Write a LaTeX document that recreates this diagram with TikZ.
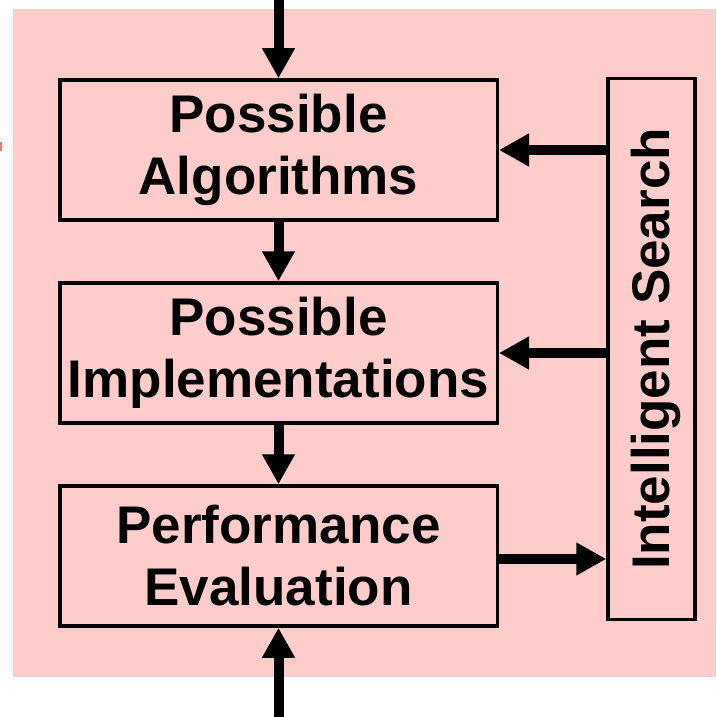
\documentclass[tikz,border=0pt]{standalone}
\usepackage{fontspec}
\setmainfont{Liberation Sans}
\usepackage{graphicx}
\usepackage{tikz}
\usetikzlibrary{positioning,arrows.meta}
\definecolor{bgpink}{RGB}{255,204,204}
\definecolor{markred}{RGB}{255,120,120}

\begin{document}
\begin{tikzpicture}[x=1pt, y=-1pt, align=center, font=\bfseries\fontsize{53}{62}\selectfont,
    stage/.style={draw, line width=3.5pt, minimum width=437.5pt, minimum height=140pt, inner sep=0pt},
    flow/.style={line width=10pt, -{Triangle[length=30pt,width=31pt]}}]
    \useasboundingbox (0,0) rectangle (716,717);
    \fill [bgpink] (13,9) rectangle (716,677);
    \fill [markred] (0,142) rectangle (1.5,151);

    \node [stage] (algorithms) at (278.5,150) {Possible\\Algorithms};
    \node [stage, below=59.5pt of algorithms] (implementations) {Possible\\Implementations};
    \node [stage, below=59.5pt of implementations] (evaluation) {Performance\\Evaluation};
    \node [draw, line width=3.5pt, minimum width=87pt, minimum height=541pt, inner sep=0pt] (search) at (651.5,349)
        {\rotatebox{90}{\raisebox{-4pt}[\height][\depth]{Intelligent Search}}};

    \coordinate (top_in) at (algorithms.north |- 0,0);
    \coordinate (bottom_in) at (evaluation.south |- 0,717);

    \draw [flow] (top_in) -- (algorithms.north);
    \draw [flow] (algorithms) -- (implementations);
    \draw [flow] (implementations) -- (evaluation);
    \draw [flow] (bottom_in) -- (evaluation.south);
    \draw [flow] (search.west |- algorithms.east) -- (algorithms.east);
    \draw [flow] (search.west |- implementations.east) -- (implementations.east);
    \draw [flow] ([yshift=-3pt]evaluation.east) -- ([yshift=-3pt]evaluation.east -| search.west);
\end{tikzpicture}
\end{document}
